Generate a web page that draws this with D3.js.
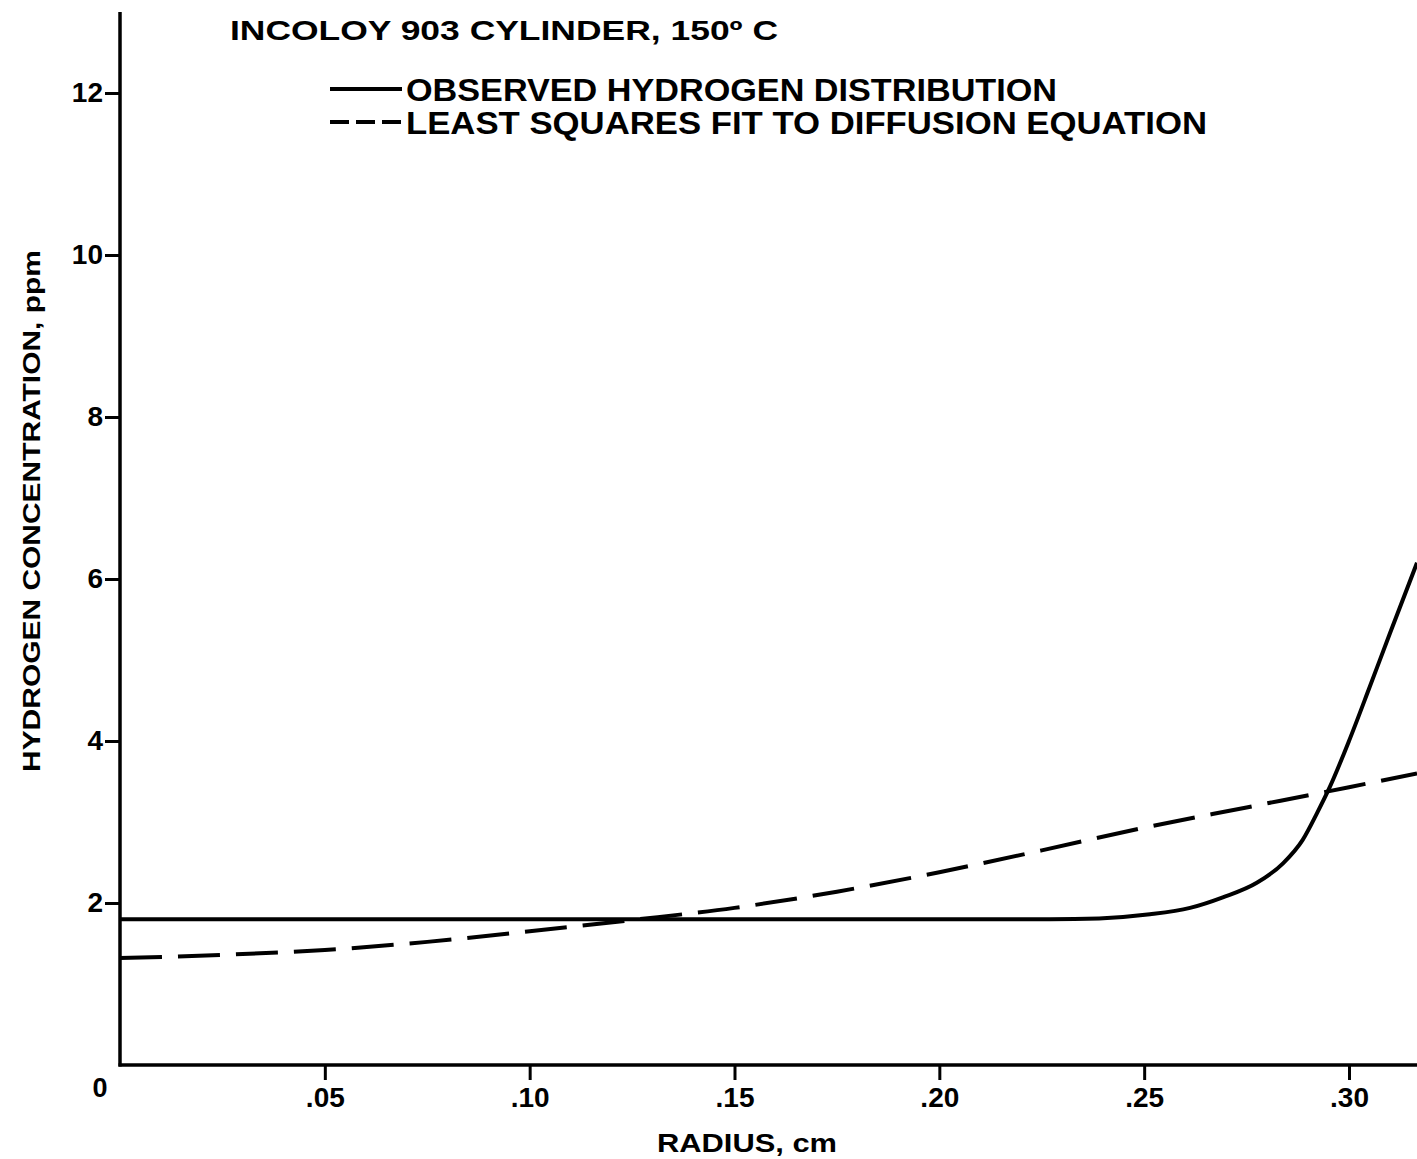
<!DOCTYPE html>
<html>
<head>
<meta charset="utf-8">
<script src="https://cdn.jsdelivr.net/npm/d3@7"></script>
<style>
    body { margin: 0; background: #fff; }
    svg { display: block; }
    text { font-family: 'Liberation Sans', Arial, Helvetica, sans-serif; font-weight: bold; fill: #000; }
</style>
</head>
<body>
<svg id="chart" width="1417" height="1159"></svg>
<script>
// values (radius in cm, concentration in ppm)
var obs_radius = [0, 0.05, 0.10, 0.15, 0.20, 0.227, 0.239, 0.2514, 0.2612, 0.2692, 0.2775, 0.2839,
    0.2887, 0.2922, 0.2953, 0.30, 0.305, 0.31, 0.3166];
var obs_ppm = [1.8, 1.8, 1.8, 1.8, 1.8, 1.8, 1.81, 1.86, 1.94, 2.07, 2.25, 2.49,
    2.78, 3.11, 3.43, 4.0, 4.66, 5.33, 6.2];

var fit_radius = [0, 0.025, 0.05, 0.075, 0.10, 0.125, 0.15, 0.175, 0.20, 0.225, 0.25, 0.275, 0.30, 0.3166];
var fit_ppm = [1.32, 1.36, 1.42, 1.52, 1.65, 1.79, 1.94, 2.14, 2.38, 2.65, 2.93, 3.18, 3.43, 3.6];

var x_ticks = [0.05, 0.10, 0.15, 0.20, 0.25, 0.30];
var y_ticks = [2, 4, 6, 8, 10, 12];

var title_text = 'INCOLOY  903  CYLINDER,  150\u00BA  C';
var legend_labels = ['OBSERVED  HYDROGEN  DISTRIBUTION', 'LEAST  SQUARES  FIT  TO  DIFFUSION  EQUATION'];

var svg = d3.select('#chart');

var x = d3.scaleLinear().domain([0, 0.3166]).range([120, 1417]);
var y = d3.scaleLinear().domain([0, 13]).range([1065, 12]);

// axes
var xAxis = d3.axisBottom(x)
    .tickValues(x_ticks)
    .tickSize(15)
    .tickPadding(6)
    .tickFormat(function (d) {
        return d3.format('.2f')(d).replace(/^0/, '');
    });
var yAxis = d3.axisLeft(y)
    .tickValues(y_ticks)
    .tickSize(15)
    .tickPadding(2)
    .tickFormat(d3.format('d'));

var gx = svg.append('g').attr('transform', 'translate(0,' + y(0) + ')').call(xAxis);
var gy = svg.append('g').attr('transform', 'translate(' + x(0) + ',0)').call(yAxis);

[gx, gy].forEach(function (g) {
    g.select('.domain').remove();
    g.selectAll('.tick line').style('stroke', '#000').style('stroke-width', 3);
    g.selectAll('.tick text').style('font-size', '28px');
});
gx.selectAll('.tick text').attr('dy', '0.75em');

svg.append('line')
    .attr('x1', x(0)).attr('x2', x(0))
    .attr('y1', y(13)).attr('y2', y(0) + 1.5)
    .style('stroke', '#000').style('stroke-width', 3.5);
svg.append('line')
    .attr('x1', x(0) - 1.5).attr('x2', 1417)
    .attr('y1', y(0)).attr('y2', y(0))
    .style('stroke', '#000').style('stroke-width', 3.5);

// origin label sits below-left of the corner
svg.append('text')
    .attr('x', 100).attr('y', 1097)
    .attr('text-anchor', 'middle')
    .style('font-size', '27px')
    .text('0');

// curves
var line = d3.line()
    .x(function (d) { return x(d[0]); })
    .y(function (d) { return y(d[1]); })
    .curve(d3.curveMonotoneX);

svg.append('path')
    .datum(d3.zip(fit_radius, fit_ppm))
    .attr('d', line)
    .style('fill', 'none')
    .style('stroke', '#000')
    .style('stroke-width', 4)
    .style('stroke-dasharray', '42,16');

svg.append('path')
    .datum(d3.zip(obs_radius, obs_ppm))
    .attr('d', line)
    .style('fill', 'none')
    .style('stroke', '#000')
    .style('stroke-width', 4);

// titles
svg.append('text')
    .attr('x', 230).attr('y', 40)
    .attr('textLength', 548).attr('lengthAdjust', 'spacingAndGlyphs')
    .style('font-size', '27px')
    .text(title_text);

svg.append('text')
    .attr('x', 747).attr('y', 1152)
    .attr('text-anchor', 'middle')
    .attr('textLength', 180).attr('lengthAdjust', 'spacingAndGlyphs')
    .style('font-size', '25px')
    .text('RADIUS,  cm');

svg.append('text')
    .attr('transform', 'translate(40,511) rotate(-90)')
    .attr('text-anchor', 'middle')
    .attr('textLength', 522).attr('lengthAdjust', 'spacingAndGlyphs')
    .style('font-size', '24px')
    .text('HYDROGEN  CONCENTRATION,  ppm');

// legend
var legend = svg.append('g');
var legend_y = [89, 122];
legend.append('line')
    .attr('x1', 330).attr('x2', 402)
    .attr('y1', legend_y[0]).attr('y2', legend_y[0])
    .style('stroke', '#000').style('stroke-width', 4);
legend.append('line')
    .attr('x1', 330).attr('x2', 402)
    .attr('y1', legend_y[1]).attr('y2', legend_y[1])
    .style('stroke', '#000').style('stroke-width', 4)
    .style('stroke-dasharray', '19,7');
legend.selectAll('text.lab')
    .data(legend_labels)
    .enter()
    .append('text')
    .attr('class', 'lab')
    .attr('x', 406)
    .attr('y', function (d, i) { return legend_y[i] + 12; })
    .attr('textLength', function (d, i) { return i === 0 ? 651 : 801; })
    .attr('lengthAdjust', 'spacingAndGlyphs')
    .style('font-size', '32px')
    .text(function (d) { return d; });
</script>
</body>
</html>
